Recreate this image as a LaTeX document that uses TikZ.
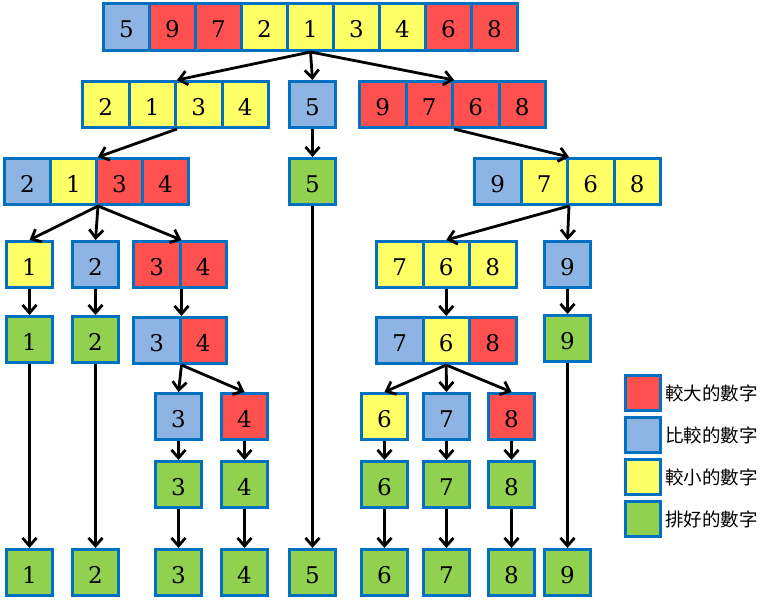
\documentclass[tikz,border=0pt]{standalone}
\usepackage{fontspec}
\newfontfamily\cjkfont{Noto Sans CJK TC}
\newfontfamily\digfont{DejaVu Serif}
\usetikzlibrary{arrows.meta}
\definecolor{cR}{HTML}{FF5050}
\definecolor{cB}{HTML}{8EB4E3}
\definecolor{cY}{HTML}{FFFF66}
\definecolor{cG}{HTML}{92D050}
\definecolor{bordc}{HTML}{0070C0}
\tikzset{
  cell/.style={draw=bordc, line width=3pt, inner sep=0pt, minimum height=46pt,
    text height=21pt, text depth=0pt,
    font=\digfont\fontsize{23}{23}\selectfont},
  arr/.style={-{Straight Barb[length=8pt,width=14pt,line width=2.8pt]}, line width=2.8pt, black},
  legbox/.style={draw=bordc, line width=3pt, minimum width=35pt, minimum height=35pt, inner sep=0pt},
  legtext/.style={anchor=west, inner sep=0pt, font=\cjkfont\fontsize{18.5}{18.5}\selectfont}
}
\newcommand\cellrow[6]{% name, x, y, w, h, list
  \foreach [count=\i] \c/\l in {#6} {
    \node[cell, fill=\c, minimum width=#4, minimum height=#5, anchor=north west]
      (#1-\i) at ({#2+(\i-1)*#4}, #3) {\l};
  }
}
\begin{document}
\begin{tikzpicture}[x=1pt,y=-1pt]
\useasboundingbox (0,0) rectangle (768,605);
% row A
\cellrow{A}{102}{2}{46}{47}{cB/5,cR/9,cR/7,cY/2,cY/1,cY/3,cY/4,cR/6,cR/8}
% row B
\cellrow{Ba}{81}{80}{46.5}{46}{cY/2,cY/1,cY/3,cY/4}
\cellrow{Bb}{288}{80}{46}{46}{cB/5}
\cellrow{Bc}{358}{80}{46.5}{46}{cR/9,cR/7,cR/6,cR/8}
% row C
\cellrow{Ca}{3}{157}{46}{46}{cB/2,cY/1,cR/3,cR/4}
\cellrow{Cb}{288}{157}{46}{46}{cG/5}
\cellrow{Cc}{473}{157}{46.5}{46}{cB/9,cY/7,cY/6,cY/8}
% row D
\cellrow{Da}{5}{240}{46}{46}{cY/1}
\cellrow{Db}{71}{240}{46}{46}{cB/2}
\cellrow{Dc}{132}{240}{46.5}{46}{cR/3,cR/4}
\cellrow{Dd}{375}{240}{46.5}{46}{cY/7,cY/6,cY/8}
\cellrow{De}{543}{240}{46}{46}{cB/9}
% row E
\cellrow{Ea}{5}{315}{46}{46}{cG/1}
\cellrow{Eb}{71}{315}{46}{46}{cG/2}
\cellrow{Ec}{132}{316}{46.5}{46}{cB/3,cR/4}
\cellrow{Ed}{375}{316}{46.5}{46}{cB/7,cY/6,cR/8}
\cellrow{Ee}{543}{314}{46}{46}{cG/9}
% row F
\cellrow{Fa}{154}{392}{46}{46}{cB/3}
\cellrow{Fb}{220}{392}{46}{46}{cR/4}
\cellrow{Fc}{360}{392}{46}{46}{cY/6}
\cellrow{Fd}{422}{392}{46}{46}{cB/7}
\cellrow{Fe}{487}{392}{46}{46}{cR/8}
% row G
\cellrow{Ga}{154}{460}{46}{46}{cG/3}
\cellrow{Gb}{220}{460}{46}{46}{cG/4}
\cellrow{Gc}{360}{460}{46}{46}{cG/6}
\cellrow{Gd}{422}{460}{46}{46}{cG/7}
\cellrow{Ge}{487}{460}{46}{46}{cG/8}
% row H
\cellrow{H1}{5}{548}{46}{46}{cG/1}
\cellrow{H2}{71}{548}{46}{46}{cG/2}
\cellrow{H3}{154}{548}{46}{46}{cG/3}
\cellrow{H4}{220}{548}{46}{46}{cG/4}
\cellrow{H5}{288}{548}{46}{46}{cG/5}
\cellrow{H6}{360}{548}{46}{46}{cG/6}
\cellrow{H7}{422}{548}{46}{46}{cG/7}
\cellrow{H8}{487}{548}{46}{46}{cG/8}
\cellrow{H9}{543}{548}{46}{46}{cG/9}
% arrows
\draw[arr] (A-5.south) -- (Ba-2.north east);
\draw[arr] (A-5.south) -- (Bb-1.north);
\draw[arr] (A-5.south) -- (Bc-2.north east);
\draw[arr] (Ba-2.south east) -- (Ca-2.north east);
\draw[arr] (Bb-1.south) -- (Cb-1.north);
\draw[arr] (Bc-2.south east) -- (Cc-2.north east);
\draw[arr] (Ca-2.south east) -- (Da-1.north);
\draw[arr] (Ca-2.south east) -- (Db-1.north);
\draw[arr] (Ca-2.south east) -- (Dc-1.north east);
\draw[arr] (Cb-1.south) -- (H5-1.north);
\draw[arr] (Cc-2.south east) -- (Dd-2.north);
\draw[arr] (Cc-2.south east) -- (De-1.north);
\draw[arr] (Da-1.south) -- (Ea-1.north);
\draw[arr] (Db-1.south) -- (Eb-1.north);
\draw[arr] (Dc-1.south east) -- (Ec-1.north east);
\draw[arr] (Dd-2.south) -- (Ed-2.north);
\draw[arr] (De-1.south) -- (Ee-1.north);
\draw[arr] (Ea-1.south) -- (H1-1.north);
\draw[arr] (Eb-1.south) -- (H2-1.north);
\draw[arr] (Ec-1.south east) -- (Fa-1.north);
\draw[arr] (Ec-1.south east) -- (Fb-1.north);
\draw[arr] (Ed-2.south) -- (Fc-1.north);
\draw[arr] (Ed-2.south) -- (Fd-1.north);
\draw[arr] (Ed-2.south) -- (Fe-1.north);
\draw[arr] (Ee-1.south) -- (H9-1.north);
\draw[arr] (Fa-1.south) -- (Ga-1.north);
\draw[arr] (Fb-1.south) -- (Gb-1.north);
\draw[arr] (Fc-1.south) -- (Gc-1.north);
\draw[arr] (Fd-1.south) -- (Gd-1.north);
\draw[arr] (Fe-1.south) -- (Ge-1.north);
\draw[arr] (Ga-1.south) -- (H3-1.north);
\draw[arr] (Gb-1.south) -- (H4-1.north);
\draw[arr] (Gc-1.south) -- (H6-1.north);
\draw[arr] (Gd-1.south) -- (H7-1.north);
\draw[arr] (Ge-1.south) -- (H8-1.north);
% legend
\node[legbox, fill=cR] (L1) at (643,393) {};
\node[legbox, fill=cB] (L2) at (643,435) {};
\node[legbox, fill=cY] (L3) at (643,477) {};
\node[legbox, fill=cG] (L4) at (643,519) {};
\node[legtext] (T1) at (665,393) {較大的數字};
\node[legtext] (T2) at (665,435) {比較的數字};
\node[legtext] (T3) at (665,477) {較小的數字};
\node[legtext] (T4) at (665,519) {排好的數字};
\end{tikzpicture}
\end{document}
